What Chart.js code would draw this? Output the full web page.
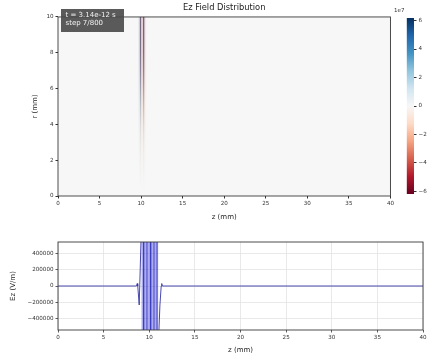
<!DOCTYPE html>
<html>
<head>
<meta charset="utf-8">
<script src="https://cdn.jsdelivr.net/npm/chart.js@4.4.0/dist/chart.umd.min.js"></script>
<style>
  body { margin: 0; background: #fff; width: 433px; height: 356px; position: relative; overflow: hidden; font-family: "DejaVu Sans", sans-serif; }
  canvas { position: absolute; }
  #info { position: absolute; left: 61px; top: 9px; width: 63px; height: 23px; box-sizing: border-box;
          background: rgba(72,72,72,0.9); color: #f2f2f2; font-size: 7px; line-height: 8px; padding: 2px 0 0 4.5px; white-space: nowrap; }
  #cbexp { position: absolute; left: 394px; top: 7px; font-size: 5.5px; color: #333; }
</style>
</head>
<body>
<canvas id="field" width="396" height="225" style="left:0;top:0"></canvas>
<canvas id="cbar" width="38" height="225" style="left:395px;top:0"></canvas>
<canvas id="line" width="433" height="126" style="left:0;top:230px"></canvas>
<div id="info">t = 3.14e-12 s<br>step 7/800</div>
<div id="cbexp">1e7</div>
<script>
// ---- data ----
const zTicks = [0, 5, 10, 15, 20, 25, 30, 35, 40];
const rTicks = [0, 2, 4, 6, 8, 10];
const ezTicks = [-400000, -200000, 0, 200000, 400000];
const cbTicks = [-6, -4, -2, 0, 2, 4, 6];   // x 1e7

// heatmap stripes (z in mm), Ez in 1e7 V/m, one row per r value (r = 0 first)
const stripeZ = [9.70, 9.76, 9.82, 9.88, 9.94, 10.00, 10.06, 10.12, 10.18, 10.24, 10.30, 10.36, 10.42, 10.48, 10.54, 10.60];
const stripeW = 0.06;
const rRows = [0, 1, 2, 3, 4, 5, 6, 7, 8, 9, 10];
const ezGrid = [
  [0, 0, 0, 0, 0, 0, 0, 0, 0, 0, 0, 0, 0, 0, 0, 0],
  [0, 0, 0.1, -0.2, 0.2, -0.3, 0, 0, 0, -0.3, 0.2, -0.2, 0.1, -0.1, 0, 0],
  [0.1, -0.1, 0.2, -0.5, 0.6, -0.7, 0.1, -0.1, 0.1, -0.7, 0.6, -0.6, 0.2, -0.2, 0.1, 0],
  [0.2, -0.2, 0.4, -0.9, 1.2, -1.3, 0.2, -0.2, 0.1, -1.2, 1.2, -1.1, 0.4, -0.4, 0.1, 0],
  [0.4, -0.4, 0.6, -1.3, 1.9, -2.0, 0.3, -0.3, 0.2, -1.8, 1.9, -1.7, 0.7, -0.7, 0.2, -0.1],
  [0.6, -0.6, 0.9, -2.0, 2.9, -2.9, 0.4, -0.4, 0.2, -2.6, 2.9, -2.6, 1.1, -1.1, 0.3, -0.1],
  [0.8, -0.8, 1.2, -2.7, 3.9, -3.9, 0.5, -0.5, 0.3, -3.5, 3.9, -3.5, 1.4, -1.4, 0.4, -0.2],
  [1.0, -1.0, 1.5, -3.4, 4.9, -4.9, 0.7, -0.7, 0.4, -4.4, 4.9, -4.4, 1.8, -1.8, 0.5, -0.2],
  [1.1, -1.1, 1.7, -3.9, 5.6, -5.6, 0.7, -0.7, 0.5, -5.0, 5.6, -5.0, 2.0, -2.0, 0.6, -0.3],
  [1.2, -1.2, 1.8, -4.1, 5.9, -5.9, 0.8, -0.8, 0.5, -5.3, 5.9, -5.3, 2.2, -2.2, 0.6, -0.3],
  [1.2, -1.2, 1.8, -4.2, 6.0, -6.0, 0.8, -0.8, 0.5, -5.4, 6.0, -5.4, 2.2, -2.2, 0.6, -0.3]
];
const vLimit = 6.18;

// on-axis Ez line (z in mm, V/m)
const lineZ  = [0, 8.6, 8.68, 8.74, 8.9, 9.13, 9.16, 9.35, 9.39, 9.73, 9.77, 10.12, 10.16, 10.5, 10.54, 10.83, 10.87, 10.98, 11.01, 11.17, 11.31, 11.37, 11.43, 40];
const lineEz = [0, 0, 30000, 0, -235000, 700000, 5e7, 5e7, -5e7, -5e7, 5e7, 5e7, -5e7, -5e7, 5e7, 5e7, -5e7, -5e7, -700000, -235000, 0, 30000, 0, 0];
// envelope of the clipped pulse
const bandZ  = [9.13, 11.0];
const bandHi = [5e7, 5e7];
const bandLo = [-5e7, -5e7];

// ---- helpers ----
const rdbuStops = ['#67001f', '#b2182b', '#d6604d', '#f4a582', '#fddbc7', '#f7f7f7',
                   '#d1e5f0', '#92c5de', '#4393c3', '#2166ac', '#053061'];
function hex(h) { return [1, 3, 5].map(i => parseInt(h.substr(i, 2), 16)); }
function rdbu(v) {
  let t = (v + vLimit) / (2 * vLimit);
  t = Math.max(0, Math.min(1, t)) * (rdbuStops.length - 1);
  const i = Math.min(Math.floor(t), rdbuStops.length - 2), f = t - i;
  const a = hex(rdbuStops[i]), b = hex(rdbuStops[i + 1]);
  return 'rgb(' + a.map((c, k) => Math.round(c + (b[k] - c) * f)).join(',') + ')';
}
const tickFont = { family: 'DejaVu Sans', size: 5.6 };
const labelFont = { family: 'DejaVu Sans', size: 7 };
const fixTicks = arr => (s => { s.ticks = arr.map(v => ({ value: v })); });
const plainTick = v => (v < 0 ? '\u2212' + Math.abs(v) : String(v));

const framePlugin = {
  id: 'frame',
  afterDatasetsDraw(chart) {
    const { ctx, chartArea: a } = chart;
    ctx.save();
    ctx.strokeStyle = '#3a3a3a';
    ctx.lineWidth = 0.9;
    ctx.strokeRect(a.left, a.top, a.right - a.left, a.bottom - a.top);
    ctx.restore();
  }
};

const cellPlugin = {
  id: 'cells',
  beforeDatasetsDraw(chart) {
    const { ctx, chartArea: a, scales: { x, y } } = chart;
    ctx.save();
    ctx.fillStyle = rdbu(0);
    ctx.fillRect(a.left, a.top, a.right - a.left, a.bottom - a.top);
    const rMin = rRows[0], rMax = rRows[rRows.length - 1];
    const y0 = y.getPixelForValue(rMin), y1 = y.getPixelForValue(rMax);
    stripeZ.forEach((z, j) => {
      const g = ctx.createLinearGradient(0, y0, 0, y1);
      rRows.forEach((r, i) => g.addColorStop((r - rMin) / (rMax - rMin), rdbu(ezGrid[i][j])));
      const xl = x.getPixelForValue(z - stripeW / 2), xr = x.getPixelForValue(z + stripeW / 2);
      ctx.fillStyle = g;
      ctx.fillRect(xl, y1, xr - xl, y0 - y1);
    });
    ctx.restore();
  }
};

Chart.defaults.animation = false;
Chart.defaults.font.family = 'DejaVu Sans';
Chart.defaults.color = '#333';

// ---- top: field map ----
new Chart(document.getElementById('field'), {
  type: 'scatter',
  data: { datasets: [{ data: [] }] },
  plugins: [cellPlugin, framePlugin],
  options: {
    responsive: false,
    devicePixelRatio: 1,
    layout: { padding: { left: 0, right: 5, top: 0, bottom: 0 } },
    plugins: {
      legend: { display: false },
      tooltip: { enabled: false },
      title: { display: true, fullSize: false, text: 'Ez Field Distribution', color: '#222',
               font: { family: 'DejaVu Sans', size: 8.3, weight: 'normal' }, padding: { top: 2.5, bottom: 4.5 } }
    },
    scales: {
      x: {
        type: 'linear', min: 0, max: 40,
        afterBuildTicks: fixTicks(zTicks),
        afterFit: s => { s.height = 29; },
        grid: { drawOnChartArea: false, tickLength: 2.5, tickColor: '#333' },
        border: { display: false },
        ticks: { font: tickFont, padding: 2, maxRotation: 0, callback: plainTick },
        title: { display: true, text: 'z (mm)', font: labelFont, color: '#222', padding: { top: 0, bottom: 3.8 } }
      },
      y: {
        type: 'linear', min: 0, max: 10,
        afterBuildTicks: fixTicks(rTicks),
        afterFit: s => { s.width = 58; },
        grid: { drawOnChartArea: false, tickLength: 2.5, tickColor: '#333' },
        border: { display: false },
        ticks: { font: tickFont, padding: 2, callback: plainTick },
        title: { display: true, text: 'r (mm)', font: labelFont, color: '#222', padding: { top: 30.5, bottom: 0 } }
      }
    }
  }
});

// ---- colour bar ----
new Chart(document.getElementById('cbar'), {
  type: 'bar',
  data: {
    labels: [''],
    datasets: [{
      data: [[-vLimit, vLimit]],
      barPercentage: 1, categoryPercentage: 1, borderWidth: 0,
      backgroundColor: ctx => {
        const a = ctx.chart.chartArea;
        if (!a) return '#f7f7f7';
        const g = ctx.chart.ctx.createLinearGradient(0, a.bottom, 0, a.top);
        rdbuStops.forEach((c, i) => g.addColorStop(i / (rdbuStops.length - 1), c));
        return g;
      }
    }]
  },
  options: {
    responsive: false,
    devicePixelRatio: 1,
    layout: { padding: { left: 11.7, right: 0, top: 18, bottom: 31 } },
    plugins: { legend: { display: false }, tooltip: { enabled: false } },
    scales: {
      x: { display: false },
      y: {
        position: 'right', min: -vLimit, max: vLimit,
        afterBuildTicks: fixTicks(cbTicks),
        afterFit: s => { s.width = 19; },
        grid: { drawOnChartArea: false, tickLength: 2.5, tickColor: '#333' },
        border: { display: false },
        ticks: { font: tickFont, padding: 2, callback: plainTick }
      }
    }
  }
});

// ---- bottom: on-axis line ----
new Chart(document.getElementById('line'), {
  type: 'line',
  data: {
    datasets: [
      { data: bandZ.map((z, i) => ({ x: z, y: bandHi[i] })), borderWidth: 0, pointRadius: 0, fill: false },
      { data: bandZ.map((z, i) => ({ x: z, y: bandLo[i] })), borderWidth: 0, pointRadius: 0,
        fill: '-1', backgroundColor: 'rgba(70,70,225,0.45)' },
      { data: lineZ.map((z, i) => ({ x: z, y: lineEz[i] })), borderColor: '#3434a6', borderWidth: 0.9,
        pointRadius: 0, tension: 0, fill: false }
    ]
  },
  plugins: [framePlugin],
  options: {
    responsive: false,
    devicePixelRatio: 1,
    layout: { padding: { left: 0, right: 10, top: 12, bottom: 0 } },
    plugins: { legend: { display: false }, tooltip: { enabled: false } },
    scales: {
      x: {
        type: 'linear', min: 0, max: 40,
        afterBuildTicks: fixTicks(zTicks),
        afterFit: s => { s.height = 26; },
        grid: { color: '#e3e3e3', lineWidth: 0.8, tickLength: 2.5, tickColor: '#333' },
        border: { display: false },
        ticks: { font: tickFont, padding: 2, maxRotation: 0, callback: plainTick },
        title: { display: true, text: 'z (mm)', font: labelFont, color: '#222', padding: { top: 0, bottom: 1.5 } }
      },
      y: {
        type: 'linear', min: -545000, max: 545000,
        afterBuildTicks: fixTicks(ezTicks),
        afterFit: s => { s.width = 58; },
        grid: { color: '#e3e3e3', lineWidth: 0.8, tickLength: 2.5, tickColor: '#333' },
        border: { display: false },
        ticks: { font: tickFont, padding: 2, callback: plainTick },
        title: { display: true, text: 'Ez (V/m)', font: labelFont, color: '#222', padding: { top: 8.5, bottom: 0 } }
      }
    }
  }
});
</script>
</body>
</html>
